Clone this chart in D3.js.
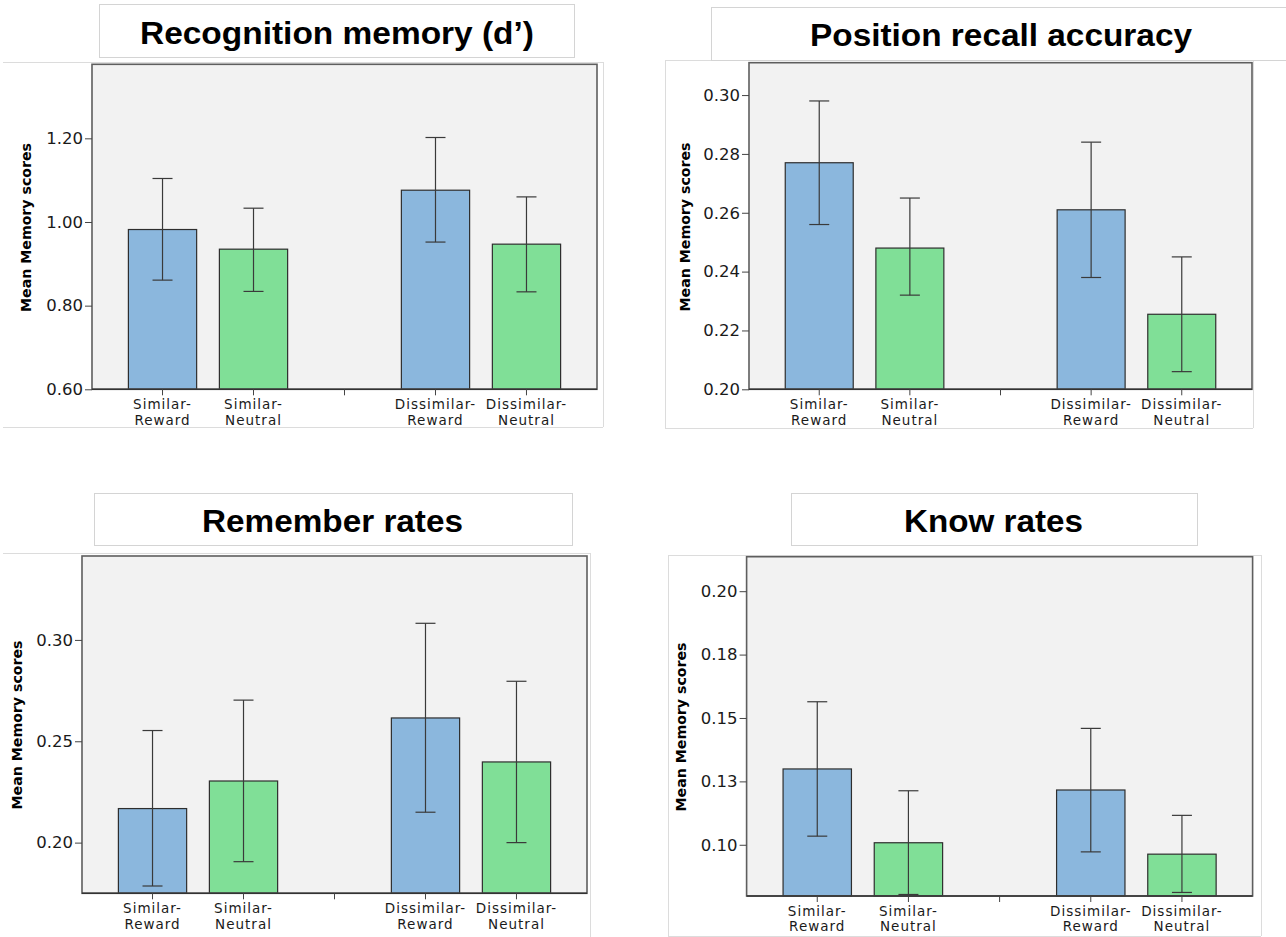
<!DOCTYPE html>
<html>
<head>
<meta charset="utf-8">
<script src="https://cdn.jsdelivr.net/npm/d3@7"></script>
<style>
  html, body { margin: 0; padding: 0; background: #ffffff; }
  svg { display: block; }
</style>
</head>
<body>
<svg id="chart" width="1286" height="937"></svg>
<script>
// ---- data ---------------------------------------------------------------
const categories = ["Similar-Reward", "Similar-Neutral", "Dissimilar-Reward", "Dissimilar-Neutral"];
const panelTitles = ["Recognition memory (d\u2019)", "Position recall accuracy", "Remember rates", "Know rates"];
const yAxisTitle = "Mean Memory scores";

// Recognition memory (d')
const recognitionMeans = [0.982, 0.935, 1.076, 0.947];
const recognitionLower = [0.861, 0.834, 0.952, 0.833];
const recognitionUpper = [1.104, 1.033, 1.202, 1.060];
const recognitionTicks = [0.60, 0.80, 1.00, 1.20];
const recognitionTickLabels = ["0.60", "0.80", "1.00", "1.20"];
const recognitionDomain = [0.60, 1.377];

// Position recall accuracy
const positionMeans = [0.277, 0.248, 0.261, 0.2255];
const positionLower = [0.256, 0.232, 0.238, 0.206];
const positionUpper = [0.298, 0.265, 0.284, 0.245];
const positionTicks = [0.20, 0.22, 0.24, 0.26, 0.28, 0.30];
const positionTickLabels = ["0.20", "0.22", "0.24", "0.26", "0.28", "0.30"];
const positionDomain = [0.20, 0.311];

// Remember rates
const rememberMeans = [0.2168, 0.2304, 0.2615, 0.2398];
const rememberLower = [0.1786, 0.1906, 0.2150, 0.2000];
const rememberUpper = [0.2553, 0.2703, 0.3082, 0.2796];
const rememberTicks = [0.20, 0.25, 0.30];
const rememberTickLabels = ["0.20", "0.25", "0.30"];
const rememberDomain = [0.175, 0.3414];

// Know rates
const knowMeans = [0.1299, 0.1008, 0.1216, 0.0963];
const knowLower = [0.1034, 0.0804, 0.0972, 0.0812];
const knowUpper = [0.1564, 0.1213, 0.1459, 0.1116];
const knowTicks = [0.100, 0.125, 0.150, 0.175, 0.200];
const knowTickLabels = ["0.10", "0.13", "0.15", "0.18", "0.20"];
const knowDomain = [0.0798, 0.2136];

// ---- layout -------------------------------------------------------------
const panels = [
  {
    title: panelTitles[0], means: recognitionMeans, lower: recognitionLower, upper: recognitionUpper,
    ticks: recognitionTicks, tickLabels: recognitionTickLabels, domain: recognitionDomain,
    frame: { x0: 92, x1: 597, y0: 64.3, y1: 389.3 },
    titleBox: { x: 99, y: 4, w: 475, h: 53 }, titleText: { cx: 337, base: 44, len: 394 },
    outer: { x0: 3, y0: 62, x1: 603, y1: 427, sides: ["top", "right", "bottom"] },
    yTitle: { x: 31, cy: 227.5 }
  },
  {
    title: panelTitles[1], means: positionMeans, lower: positionLower, upper: positionUpper,
    ticks: positionTicks, tickLabels: positionTickLabels, domain: positionDomain,
    frame: { x0: 749, x1: 1252, y0: 62.7, y1: 389.3 },
    titleBox: { x: 711, y: 7, w: 620, h: 53 }, titleText: { cx: 1001, base: 46, len: 382 },
    outer: { x0: 665, y0: 60, x1: 1253, y1: 428, sides: ["top", "right", "bottom", "left"] },
    yTitle: { x: 690, cy: 227 }
  },
  {
    title: panelTitles[2], means: rememberMeans, lower: rememberLower, upper: rememberUpper,
    ticks: rememberTicks, tickLabels: rememberTickLabels, domain: rememberDomain,
    frame: { x0: 82, x1: 587, y0: 556, y1: 893.3 },
    titleBox: { x: 94, y: 493, w: 478, h: 52 }, titleText: { cx: 332.5, base: 531.7, len: 261 },
    outer: { x0: 3, y0: 553, x1: 590, y1: 945, sides: ["top", "right"] },
    yTitle: { x: 22, cy: 725 }
  },
  {
    title: panelTitles[3], means: knowMeans, lower: knowLower, upper: knowUpper,
    ticks: knowTicks, tickLabels: knowTickLabels, domain: knowDomain,
    frame: { x0: 746.6, x1: 1252.6, y0: 556.7, y1: 896 },
    titleBox: { x: 791, y: 493, w: 406, h: 52 }, titleText: { cx: 993.5, base: 532, len: 179 },
    outer: { x0: 668, y0: 555, x1: 1261, y1: 936, sides: ["top", "right", "bottom", "left"] },
    yTitle: { x: 686, cy: 727 }
  }
];

const BLUE = "#8bb7dd";
const GREEN = "#80df97";
const GAP = "__gap__";
const slots = [categories[0], categories[1], GAP, categories[2], categories[3]];

const svg = d3.select("#chart");

function drawPanel(p) {
  const g = svg.append("g");

  // light outer border of the chart area
  const o = p.outer;
  const segs = {
    top: [o.x0, o.y0, o.x1, o.y0],
    right: [o.x1, o.y0, o.x1, o.y1],
    bottom: [o.x0, o.y1, o.x1, o.y1],
    left: [o.x0, o.y0, o.x0, o.y1]
  };
  o.sides.forEach(s => {
    const [x1, y1, x2, y2] = segs[s];
    g.append("line").attr("x1", x1).attr("y1", y1).attr("x2", x2).attr("y2", y2)
      .attr("stroke", "#dcdcdc").attr("stroke-width", 1).attr("shape-rendering", "crispEdges");
  });

  // title box
  const tb = p.titleBox;
  g.append("rect").attr("x", tb.x + 0.5).attr("y", tb.y + 0.5).attr("width", tb.w).attr("height", tb.h)
    .attr("fill", "#ffffff").attr("stroke", "#d4d4d4").attr("stroke-width", 1);
  g.append("text")
    .attr("x", p.titleText.cx).attr("y", p.titleText.base)
    .attr("text-anchor", "middle")
    .attr("font-family", "'Liberation Sans', Arial, sans-serif")
    .attr("font-weight", "bold").attr("font-size", 31)
    .attr("textLength", p.titleText.len).attr("lengthAdjust", "spacingAndGlyphs")
    .attr("fill", "#000").text(p.title);

  const f = p.frame;
  const y = d3.scaleLinear().domain(p.domain).range([f.y1, f.y0]);
  const x = d3.scaleBand().domain(slots).range([f.x0, f.x1]).paddingInner(0.25).paddingOuter(0.4);

  // plot background
  g.append("rect").attr("x", f.x0).attr("y", f.y0).attr("width", f.x1 - f.x0).attr("height", f.y1 - f.y0)
    .attr("fill", "#f2f2f2");

  const rows = categories.map((c, i) => ({ c, i, mean: p.means[i], lo: p.lower[i], hi: p.upper[i] }));

  // bars
  g.selectAll("rect.bar").data(rows).enter().append("rect")
    .attr("class", "bar")
    .attr("x", d => x(d.c))
    .attr("y", d => y(d.mean))
    .attr("width", x.bandwidth())
    .attr("height", d => y(p.domain[0]) - y(d.mean))
    .attr("fill", d => d.c.endsWith("Reward") ? BLUE : GREEN)
    .attr("stroke", "#2e2e2e").attr("stroke-width", 1.2);

  // error bars
  const eb = g.selectAll("g.err").data(rows).enter().append("g").attr("class", "err")
    .attr("stroke", "#3a3a3a").attr("stroke-width", 1.2);
  const cx = d => x(d.c) + x.bandwidth() / 2;
  const cap = 10;
  eb.append("line").attr("x1", cx).attr("x2", cx).attr("y1", d => y(d.lo)).attr("y2", d => y(d.hi));
  eb.append("line").attr("x1", d => cx(d) - cap).attr("x2", d => cx(d) + cap).attr("y1", d => y(d.hi)).attr("y2", d => y(d.hi));
  eb.append("line").attr("x1", d => cx(d) - cap).attr("x2", d => cx(d) + cap).attr("y1", d => y(d.lo)).attr("y2", d => y(d.lo));

  // frame
  g.append("rect").attr("x", f.x0).attr("y", f.y0).attr("width", f.x1 - f.x0).attr("height", f.y1 - f.y0)
    .attr("fill", "none").attr("stroke", "#5e5e5e").attr("stroke-width", 1.6);
  g.append("line").attr("x1", f.x0).attr("x2", f.x1).attr("y1", f.y1).attr("y2", f.y1)
    .attr("stroke", "#333").attr("stroke-width", 1.6);

  // y axis
  const yAxis = d3.axisLeft(y).tickValues(p.ticks)
    .tickFormat((d, i) => p.tickLabels[i]).tickSize(7).tickPadding(2);
  const ya = g.append("g").attr("transform", `translate(${f.x0},0)`).call(yAxis);
  ya.select(".domain").remove();
  ya.selectAll(".tick line").attr("stroke", "#444");
  ya.selectAll(".tick text").attr("font-family", "'DejaVu Sans', sans-serif")
    .attr("font-size", 16.5).attr("fill", "#1a1a1a");

  // x axis with two-line category labels
  const xAxis = d3.axisBottom(x).tickSize(6).tickPadding(0).tickFormat(d => d === GAP ? "" : d);
  const xa = g.append("g").attr("transform", `translate(0,${f.y1})`).call(xAxis);
  xa.select(".domain").remove();
  xa.selectAll(".tick line").attr("stroke", "#444");
  xa.selectAll(".tick text").each(function (d) {
    const t = d3.select(this);
    t.text(null).attr("y", 0).attr("dy", null)
      .attr("font-family", "'DejaVu Sans', sans-serif").attr("font-size", 13.5)
      .style("letter-spacing", "1px").attr("fill", "#1a1a1a");
    if (d === GAP) return;
    const k = d.indexOf("-");
    t.append("tspan").attr("x", 0).attr("y", 19.5).text(d.slice(0, k + 1));
    t.append("tspan").attr("x", 0).attr("y", 35.4).text(d.slice(k + 1));
  });

  // y axis title
  g.append("text")
    .attr("transform", `translate(${p.yTitle.x},${p.yTitle.cy}) rotate(-90)`)
    .attr("text-anchor", "middle")
    .attr("font-family", "'DejaVu Sans', sans-serif").attr("font-weight", "bold")
    .attr("font-size", 14.5).attr("textLength", 169).attr("lengthAdjust", "spacingAndGlyphs")
    .attr("fill", "#000").text(yAxisTitle);
}

panels.forEach(drawPanel);
</script>
</body>
</html>
